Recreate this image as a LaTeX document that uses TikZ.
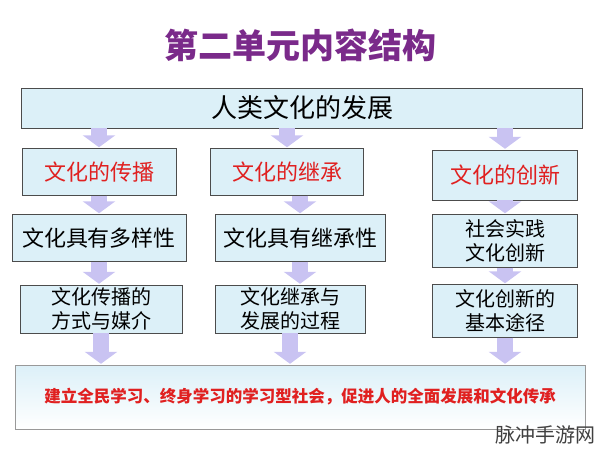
\documentclass[tikz,border=0pt]{standalone}
\usepackage{fontspec}
\setmainfont{Noto Sans CJK SC}
\newfontfamily\cjk{Noto Sans CJK SC}
\usetikzlibrary{positioning,arrows.meta}
\definecolor{boxfill}{HTML}{DCF0F8}
\definecolor{arrfill}{HTML}{C9C3F2}
\definecolor{titlec}{HTML}{7A2A8A}
\definecolor{redtxt}{HTML}{E02020}

\begin{document}
\begin{tikzpicture}[x=1pt,y=-1pt]
	\tikzset{box/.style={draw=black!70,fill=boxfill,align=center,inner sep=0pt,font=\fontsize{22}{26}\selectfont}}
	\tikzset{twoline/.style={font=\fontsize{20}{24}\selectfont}}
	\tikzset{fat/.style={draw=arrfill,line width=16pt,-{Triangle[width=32pt,length=12pt]},shorten >=1pt}}
	\useasboundingbox (0,0) rectangle (600,449);

\node[font=\fontsize{34}{38}\selectfont\bfseries,text=titlec] (title) at (300,45) {第二单元内容结构};
\node[box,minimum width=561pt,minimum height=40pt,font=\fontsize{26}{30}\selectfont] (top) at (302,108) {人类文化的发展};

% row 2
\node[box,minimum width=154pt,minimum height=47pt,text=redtxt] (r2a) at (99,172) {文化的传播};
\node[box,minimum width=153pt,minimum height=47pt,text=redtxt] (r2b) at (287,172) {文化的继承};
\node[box,minimum width=145pt,minimum height=50pt,text=redtxt] (r2c) at (505,175) {文化的创新};

% row 3
\node[box,minimum width=174pt,minimum height=47pt] (r3a) at (99,238) {文化具有多样性};
\node[box,minimum width=170pt,minimum height=47pt] (r3b) at (300,238) {文化具有继承性};
\node[box,twoline,minimum width=145pt,minimum height=53pt] (r3c) at (505,241) {社会实践\\文化创新};

% row 4
\node[box,twoline,minimum width=162pt,minimum height=48pt] (r4a) at (101,309) {文化传播的\\方式与媒介};
\node[box,twoline,minimum width=150pt,minimum height=48pt] (r4b) at (290,309) {文化继承与\\发展的过程};
\node[box,twoline,minimum width=145pt,minimum height=53pt] (r4c) at (505,311) {文化创新的\\基本途径};

\node[box,draw=black!40,top color=boxfill,bottom color=white,minimum width=570pt,minimum height=64pt,font=\fontsize{16.5}{18}\selectfont\bfseries,text=redtxt] (bot) at (300,397) {建立全民学习、终身学习的学习型社会，促进人的全面发展和文化传承};

\node[font=\fontsize{20}{22}\selectfont,text=black!75,anchor=south east] (mark) at (599,448) {脉冲手游网};

% arrows
\foreach \n in {r2a,r2b,r2c}
	\draw[fat] (\n.north |- top.south) -- (\n.north);
\draw[fat] (r2a.south) -- (r2a.south |- r3a.north);
\draw[fat] (r3b.north |- r2b.south) -- (r3b.north);
\draw[fat] (r2c.south) -- (r3c.north);
\draw[fat] (r3a.south) -- (r3a.south |- r4a.north);
\draw[fat] (r3b.south) -- (r3b.south |- r4b.north);
\draw[fat] (r3c.south) -- (r4c.north);
\foreach \n in {r4a,r4b,r4c}
	\draw[fat] (\n.south) -- (\n.south |- bot.north);

\end{tikzpicture}
\end{document}
